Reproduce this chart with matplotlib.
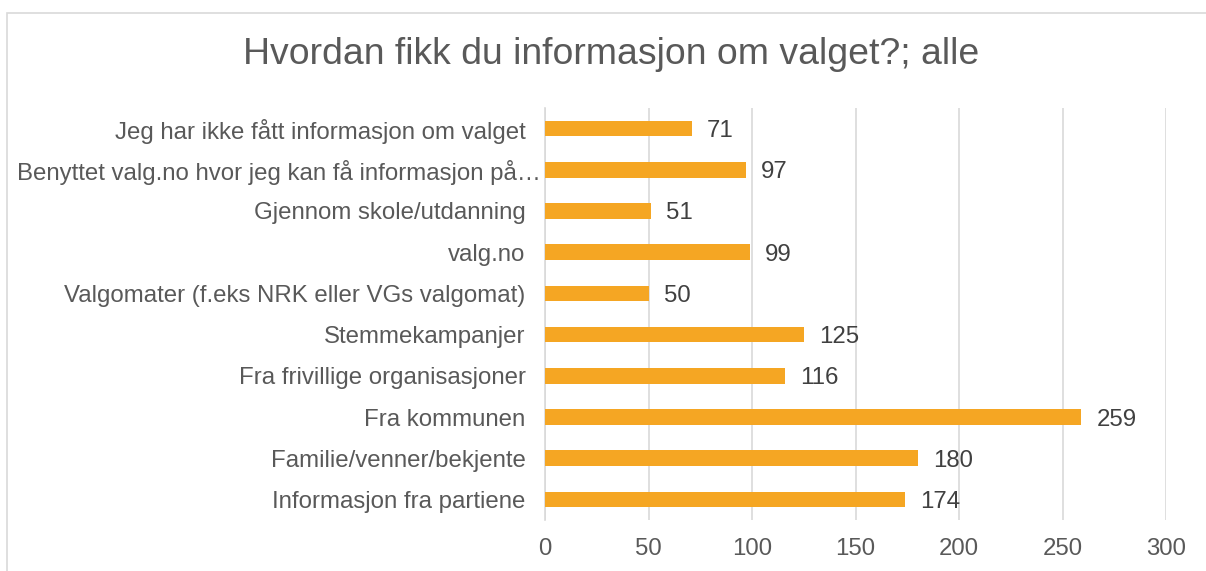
import matplotlib.pyplot as plt
from matplotlib.patches import Rectangle
from matplotlib.transforms import ScaledTranslation, blended_transform_factory

categories = [
    "Informasjon fra partiene",
    "Familie/venner/bekjente",
    "Fra kommunen",
    "Fra frivillige organisasjoner",
    "Stemmekampanjer",
    "Valgomater (f.eks NRK eller VGs valgomat)",
    "valg.no",
    "Gjennom skole/utdanning",
    "Benyttet valg.no hvor jeg kan få informasjon på…",
    "Jeg har ikke fått informasjon om valget",
]
values = [174, 180, 259, 116, 125, 50, 99, 51, 97, 71]
xticks = [0, 50, 100, 150, 200, 250, 300]

plt.rcParams['font.family'] = ['Liberation Sans', 'DejaVu Sans']
text_color = '#595959'
grid_color = '#D9D9D9'
bar_color = '#F5A623'
fs = 17.3

fig = plt.figure(figsize=(12.06, 5.71), dpi=100)
ax = fig.add_axes([545 / 1206, 1 - 520 / 571, 621 / 1206, 412 / 571])

pos = list(range(len(categories)))
bars = ax.barh(pos, values, height=0.38, color=bar_color, zorder=3)
labels = ax.bar_label(bars, labels=[str(v) for v in values], padding=11,
                      fontsize=fs, color='#404040')
for t in labels:
    t.set_va('center_baseline')

# the overlong label is squeezed up against the axis like in Excel
long_idx = [i for i, c in enumerate(categories) if c.endswith('…')]
ticklabels = ['' if i in long_idx else c for i, c in enumerate(categories)]
trans = blended_transform_factory(ax.transAxes, ax.transData) + \
    ScaledTranslation(-4 / 100, 0, fig.dpi_scale_trans)
for i in long_idx:
    ax.text(0, pos[i], categories[i], transform=trans, ha='right',
            va='center_baseline', fontsize=fs, color=text_color)

ax.set_xlim(0, 300)
ax.set_ylim(-0.5, len(categories) - 0.5)
ax.set_xticks(xticks)
ax.set_yticks(pos)
ax.set_yticklabels(ticklabels)
ax.tick_params(axis='both', length=0, labelsize=fs, labelcolor=text_color)
ax.tick_params(axis='x', pad=13)
ax.tick_params(axis='y', pad=14)
ax.grid(axis='x', color=grid_color, linewidth=1.2, zorder=0)
for s in ['top', 'right', 'bottom']:
    ax.spines[s].set_visible(False)
ax.spines['left'].set_color(grid_color)
ax.spines['left'].set_linewidth(1.2)

fig.text(0.507, 1 - 55 / 571, "Hvordan fikk du informasjon om valget?; alle",
         ha='center', va='center', fontsize=26.9, color=text_color)

# chart border
fig.patches.append(Rectangle((7 / 1206, -0.1), 1.2, 1 - 13 / 571 + 0.1,
                             transform=fig.transFigure, fill=False,
                             edgecolor=grid_color, linewidth=1.2))

fig.savefig('out.png', dpi=100)
